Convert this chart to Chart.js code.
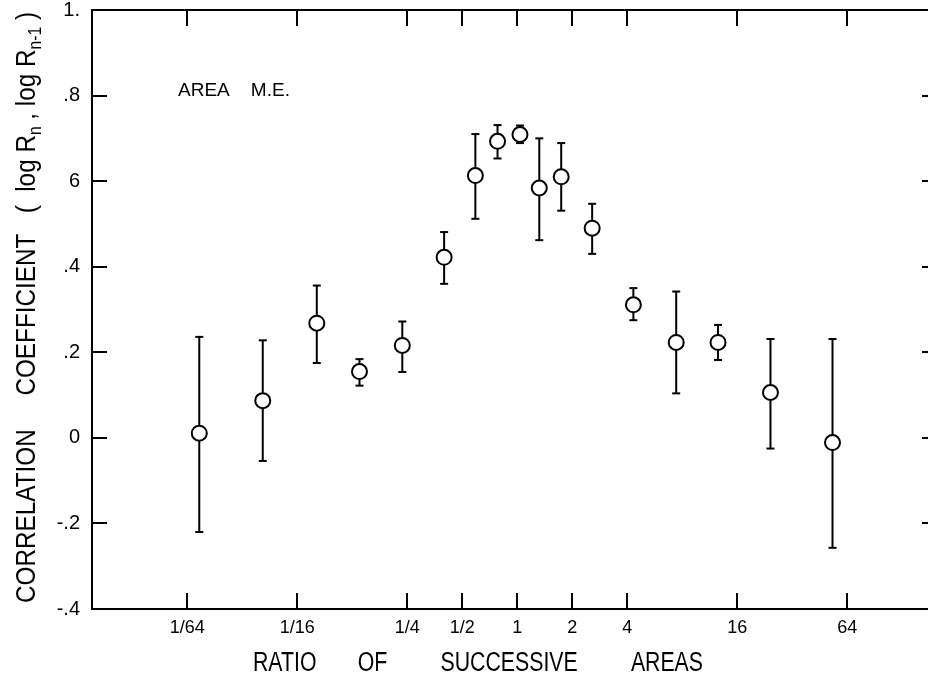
<!DOCTYPE html>
<html>
<head>
<meta charset="utf-8">
<script src="https://cdn.jsdelivr.net/npm/chart.js@4/dist/chart.umd.min.js"></script>
<style>
  html, body { margin: 0; padding: 0; background: #fff; overflow: hidden; }
  #clip { width: 928px; height: 674px; overflow: hidden; position: relative; }
  #wrap { width: 950px; height: 674px; position: absolute; left: 0; top: 0; }
</style>
</head>
<body>
<div id="clip"><div id="wrap"><canvas id="corrChart"></canvas></div></div>
<script>
// ratio of successive areas (log2 axis)
const ratios = [0.0182, 0.0405, 0.080, 0.137, 0.235, 0.398, 0.59, 0.78, 1.035, 1.32, 1.74, 2.57, 4.32, 7.41, 12.55, 24.3, 53.1];
const means  = [0.011, 0.087, 0.268, 0.155, 0.216, 0.422, 0.613, 0.693, 0.709, 0.584, 0.610, 0.490, 0.311, 0.223, 0.223, 0.106, -0.011];
const upper  = [0.236, 0.228, 0.356, 0.184, 0.272, 0.481, 0.710, 0.731, 0.730, 0.700, 0.689, 0.547, 0.350, 0.342, 0.264, 0.231, 0.231];
const lower  = [-0.220, -0.054, 0.175, 0.122, 0.154, 0.360, 0.512, 0.653, 0.689, 0.462, 0.531, 0.430, 0.275, 0.104, 0.182, -0.025, -0.257];

const xTickValues = [1/64, 1/16, 1/4, 1/2, 1, 2, 4, 16, 64];
const xTickLabels = ['1/64', '1/16', '1/4', '1/2', '1', '2', '4', '16', '64'];
const yTickValues = [-0.4, -0.2, 0, 0.2, 0.4, 0.6, 0.8, 1];
const yTickLabels = ['-.4', '-.2', '0', '.2', '.4', '6', '.8', '1.'];

const FONT = "'Liberation Sans', Arial, sans-serif";

// error bars: top, bottom, gap
const barPoints = [];
ratios.forEach((r, i) => {
    barPoints.push({x: r, y: upper[i]}, {x: r, y: lower[i]}, {x: r, y: null});
});

// frame, inward ticks and hand-lettered titles
const frame = {
    id: 'frame',
    afterDraw(chart) {
        const {ctx, chartArea: a, scales: {x, y}} = chart;
        ctx.save();
        ctx.strokeStyle = '#000';
        ctx.lineWidth = 2;
        ctx.strokeRect(a.left, a.top, a.right - a.left, a.bottom - a.top);
        ctx.beginPath();
        xTickValues.forEach(v => {
            const px = Math.round(x.getPixelForValue(v));
            ctx.moveTo(px, a.bottom); ctx.lineTo(px, a.bottom - 16);
            ctx.moveTo(px, a.top); ctx.lineTo(px, a.top + 16);
        });
        yTickValues.forEach(v => {
            const py = Math.round(y.getPixelForValue(v));
            ctx.moveTo(a.left, py); ctx.lineTo(a.left + 15, py);
            ctx.moveTo(a.right, py); ctx.lineTo(a.right - 15, py);
        });
        ctx.stroke();

        ctx.fillStyle = '#000';
        ctx.textAlign = 'left';
        ctx.textBaseline = 'alphabetic';

        // panel label
        ctx.font = '19px ' + FONT;
        ctx.fillText('AREA    M.E.', a.left + 86, a.top + 86, 114);

        // x title
        ctx.font = '27px ' + FONT;
        ctx.fillText('RATIO       OF         SUCCESSIVE         AREAS', 253, 671, 450);

        // y title with subscripts
        const parts = [
            ['CORRELATION     COEFFICIENT   (  log R', 0],
            ['n', 1],
            [' , log R', 0],
            ['n-1', 1],
            [' )', 0]
        ];
        const main = '28px ' + FONT, sub = '18px ' + FONT;
        let total = 0;
        parts.forEach(p => { ctx.font = p[1] ? sub : main; total += ctx.measureText(p[0]).width; });
        ctx.translate(35, a.bottom - 6);
        ctx.rotate(-Math.PI / 2);
        ctx.scale(591 / total, 1);
        let cx = 0;
        parts.forEach(p => {
            ctx.font = p[1] ? sub : main;
            ctx.fillText(p[0], cx, p[1] ? 6 : 0);
            cx += ctx.measureText(p[0]).width;
        });
        ctx.restore();
    }
};

const ctx = document.getElementById('corrChart').getContext('2d');
new Chart(ctx, {
    type: 'scatter',
    data: {
        datasets: [
            {
                label: 'mean',
                data: ratios.map((r, i) => ({x: r, y: means[i]})),
                pointStyle: 'circle',
                pointRadius: 7.5,
                pointBorderWidth: 2,
                pointBackgroundColor: '#fff',
                pointBorderColor: '#000',
                order: 0
            },
            {
                label: 'range',
                data: barPoints,
                showLine: true,
                spanGaps: false,
                borderColor: '#000',
                borderWidth: 2,
                pointStyle: 'line',
                pointRadius: 4,
                pointBorderWidth: 2,
                pointBorderColor: '#000',
                order: 1
            }
        ]
    },
    options: {
        responsive: true,
        maintainAspectRatio: false,
        animation: false,
        events: [],
        layout: { padding: { top: 10, right: 13, left: 0, bottom: 0 } },
        plugins: {
            legend: { display: false },
            tooltip: { enabled: false }
        },
        scales: {
            x: {
                type: 'logarithmic',
                min: Math.pow(2, -7.73),
                max: Math.pow(2, 7.63),
                grid: { display: false, drawTicks: false },
                border: { display: false },
                afterBuildTicks: s => { s.ticks = xTickValues.map(v => ({value: v})); },
                afterFit: s => { s.height = 65; s.paddingLeft = 0; s.paddingRight = 0; },
                ticks: {
                    autoSkip: false,
                    maxRotation: 0,
                    padding: 8,
                    color: '#000',
                    font: { family: FONT, size: 18 },
                    callback: (v, i) => xTickLabels[i]
                }
            },
            y: {
                min: -0.4,
                max: 1,
                grid: { display: false, drawTicks: false },
                border: { display: false },
                afterBuildTicks: s => { s.ticks = yTickValues.map(v => ({value: v})); },
                afterFit: s => { s.width = 92; s.paddingTop = 0; s.paddingBottom = 0; },
                ticks: {
                    padding: 12,
                    color: '#000',
                    font: { family: FONT, size: 20 },
                    callback: (v, i) => yTickLabels[i]
                }
            }
        }
    },
    plugins: [frame]
});
</script>
</body>
</html>
